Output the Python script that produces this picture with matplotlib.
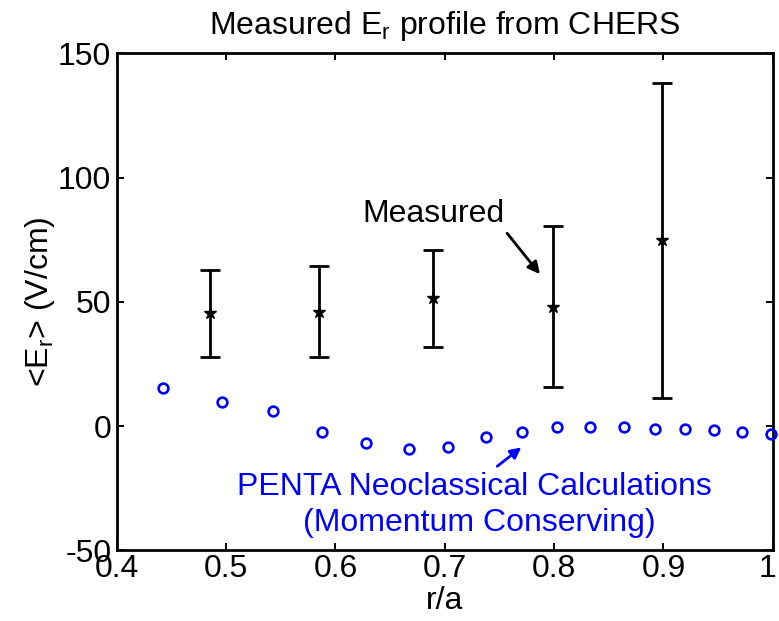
import numpy as np
import matplotlib
matplotlib.use("Agg")
import matplotlib.pyplot as plt
import matplotlib.transforms as mtransforms

plt.rcParams['font.family'] = ['Liberation Sans', 'DejaVu Sans']
plt.rcParams['mathtext.default'] = 'regular'
plt.rcParams['axes.unicode_minus'] = False

# measured Er from CHERS (with error bars)
r_meas = [0.485, 0.585, 0.689, 0.799, 0.899]
er_meas = [45.4, 46.0, 51.4, 48.1, 74.7]
er_err = [17.6, 18.4, 19.5, 32.3, 63.3]

# PENTA neoclassical calculations
r_penta = [0.442, 0.496, 0.543, 0.588, 0.628, 0.667, 0.703, 0.738, 0.771,
           0.803, 0.833, 0.864, 0.892, 0.920, 0.946, 0.972, 0.998]
er_penta = [15.2, 9.6, 6.1, -2.4, -6.7, -9.1, -8.5, -4.3, -2.4,
            -0.5, -0.5, -0.5, -1.3, -1.3, -1.8, -2.4, -3.2]

fig = plt.figure(figsize=(7.79, 6.21), dpi=100)
# axes box: x 117..773 px, y 53..550 px
ax = fig.add_axes([0.150, 0.114, 0.842, 0.800])

ax.plot(r_penta, er_penta, 'o', mfc='none', mec='#0000ff', mew=1.9, ms=7,
        clip_on=False, zorder=3)
ax.errorbar(r_meas, er_meas, yerr=er_err, fmt='*', color='k', ms=9,
            elinewidth=2, capsize=7, capthick=2)

ax.set_xlim(0.4, 1)
ax.set_ylim(-50, 150)
ax.set_xticks([0.4, 0.5, 0.6, 0.7, 0.8, 0.9, 1.0])
ax.set_xticklabels(['0.4', '0.5', '0.6', '0.7', '0.8', '0.9', '1'])
ax.set_yticks([-50, 0, 50, 100, 150])
ax.tick_params(direction='in', top=True, right=True, length=5, width=1.4,
               labelsize=23)
ax.tick_params(axis='x', pad=3)
ax.tick_params(axis='y', pad=4)
for s in ax.spines.values():
    s.set_linewidth(2)

# nudge the last x label so it stays inside the figure
last = ax.get_xticklabels()[-1]
last.set_transform(last.get_transform() +
                   mtransforms.ScaledTranslation(-4 / 72, 0, fig.dpi_scale_trans))

ax.set_title('Measured E$_r$ profile from CHERS', fontsize=23, pad=14)
ax.set_xlabel('r/a', fontsize=23, labelpad=1)
ax.set_ylabel('<E$_r$> (V/cm)', fontsize=23, labelpad=1)

# "Measured" label with black arrow
ax.text(0.690, 85.2, 'Measured', fontsize=23, ha='center', va='center')
ax.annotate('', xy=(0.787, 61.1), xytext=(0.757, 77.6),
            arrowprops=dict(arrowstyle='-|>', color='k', lw=2,
                            mutation_scale=18, shrinkA=0, shrinkB=0))

# PENTA label with blue arrow
ax.text(0.727, -24.6, 'PENTA Neoclassical Calculations', fontsize=23,
        ha='center', va='center', color='#0000ff')
ax.text(0.732, -39.1, '(Momentum Conserving)', fontsize=23,
        ha='center', va='center', color='#0000ff')
ax.annotate('', xy=(0.770, -8.6), xytext=(0.748, -16.2),
            arrowprops=dict(arrowstyle='-|>', color='#0000ff', lw=2,
                            mutation_scale=16, shrinkA=0, shrinkB=0))

fig.savefig('out.png', dpi=100)
